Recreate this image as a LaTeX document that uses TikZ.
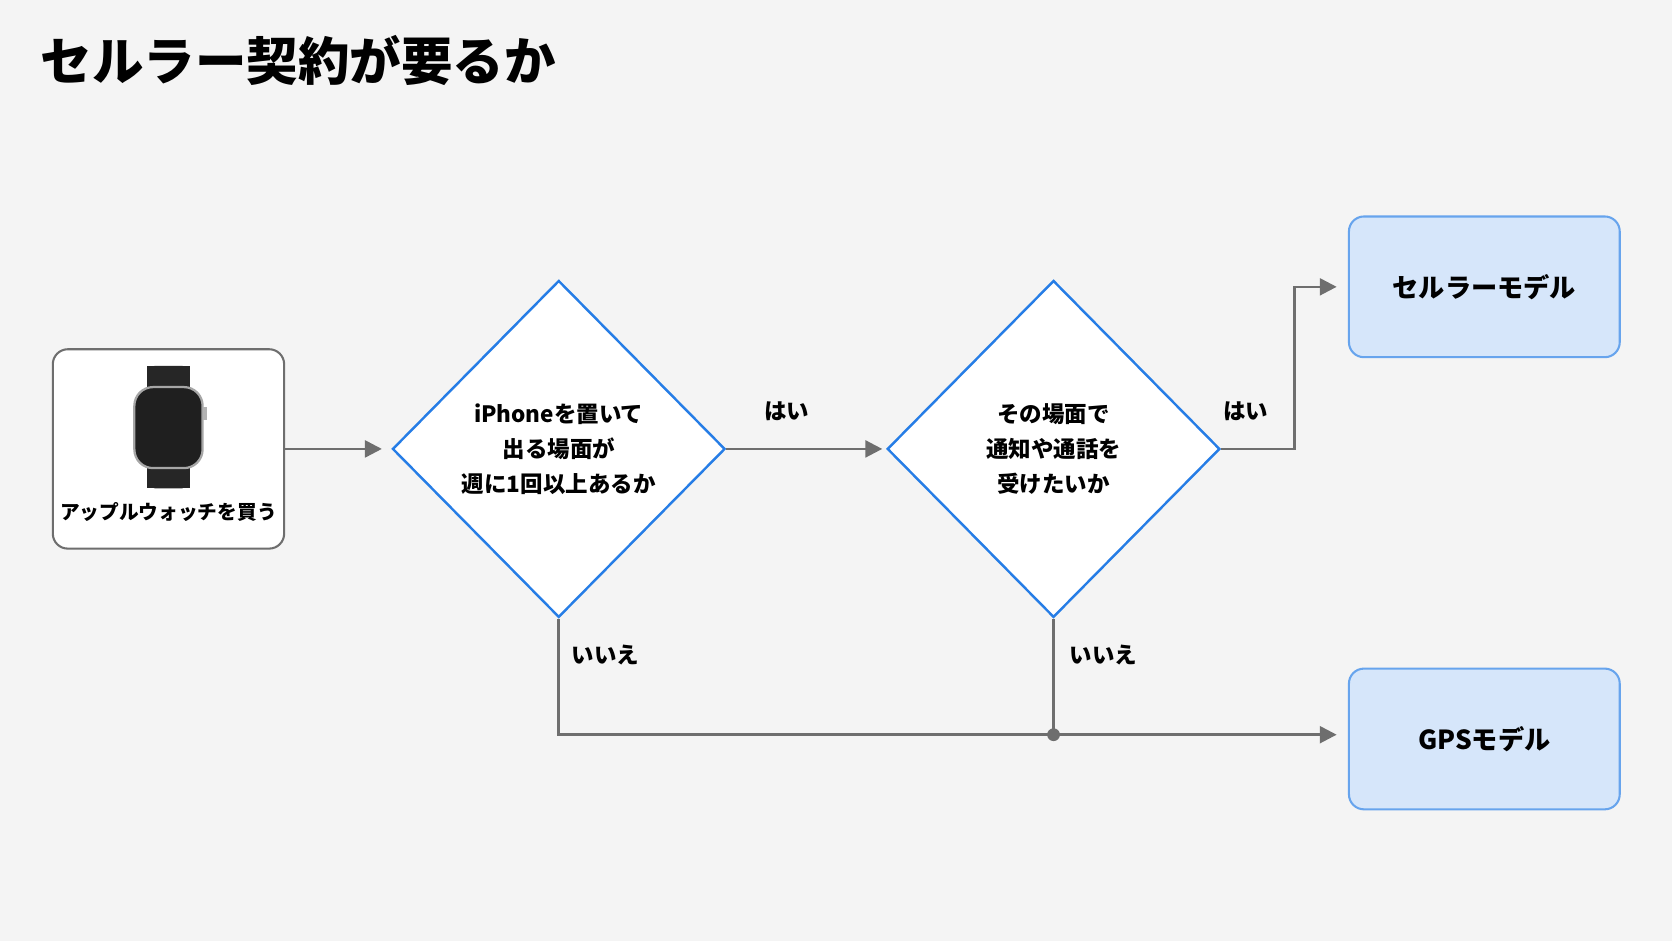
\documentclass[tikz,border=0pt]{standalone}
\usepackage{fontspec}
\setmainfont{Noto Sans CJK JP}
\definecolor{bgpaper}{RGB}{244,244,244}
\definecolor{flowblue}{RGB}{38,125,230}
\definecolor{flowlight}{RGB}{214,230,250}
\definecolor{flowgray}{RGB}{110,110,110}
\usetikzlibrary{arrows.meta, positioning, shapes.geometric}

\begin{document}
\begin{tikzpicture}[x=0.02cm, y=-0.02cm,
  decision/.style={diamond, draw=flowblue, line width=1.3pt, fill=white, minimum width=6.24cm, minimum height=6.32cm, inner sep=0pt, align=center, font=\bfseries\fontsize{12}{18.7}\selectfont},
  result/.style={draw=flowblue!70, line width=1.1pt, fill=flowlight, rounded corners=8pt, minimum width=5.08cm, minimum height=2.64cm, font=\bfseries\fontsize{14}{16}\selectfont},
  link/.style={-{Triangle[length=9pt, width=9pt]}, flowgray, line width=1.4pt},
  answer/.style={text=black, font=\bfseries\fontsize{12}{14}\selectfont}]
  \fill[bgpaper] (0,0) rectangle (1568,882);

  % Title
  \node[anchor=west, font=\bfseries\fontsize{27.5}{30}\selectfont] (title) at (32,57) {セルラー契約が要るか};

  % Start
  \node[draw=flowgray, line width=1.1pt, fill=white, rounded corners=8pt, minimum width=4.34cm, minimum height=3.74cm] (start) at (158,421) {};
  \fill[black!85] (138,343) rectangle (178,458);
  \fill[black!85, rounded corners=3pt] (140,343) rectangle (176,368);
  \fill[black!85, rounded corners=3pt] (140,435) rectangle (176,458);
  \filldraw[fill=black!88, draw=gray!70, line width=1.2pt, rounded corners=10pt] (126,363) rectangle (190,439);
  \fill[gray!60] (190,382) rectangle (194,394);
  \node[font=\bfseries\fontsize{10.5}{12}\selectfont] (startlabel) at (158,480) {アップルウォッチを買う};

  % Decisions
  \node[decision] (q1) at (524,421) {iPhoneを置いて\\出る場面が\\週に1回以上あるか};
  \node[decision] (q2) at (988,421) {その場面で\\通知や通話を\\受けたいか};

  % Results
  \node[result] (cell) at (1392,269) {セルラーモデル};
  \node[result] (gps) at (1392,693) {GPSモデル};

  % Connectors
  \coordinate (join) at (988,689);
  \draw[link] (start.east) -- ([xshift=-5pt]q1.west);
  \draw[link] (q1.east) -- ([xshift=-2pt]q2.west);
  \node[answer] (yes1) at (738,386) {はい};
  \draw[link] (q2.east) -- (1214,421) |- ([xshift=-6pt]cell.west);
  \node[answer] (yes2) at (1168,386) {はい};
  \draw[link] (q1.south) |- ([xshift=-6pt]gps.west |- join);
  \draw[flowgray, line width=1.4pt] (q2.south) -- (join);
  \fill[flowgray] (join) circle (6);
  \node[answer] (no1) at (568,614) {いいえ};
  \node[answer] (no2) at (1035,614) {いいえ};
\end{tikzpicture}
\end{document}
